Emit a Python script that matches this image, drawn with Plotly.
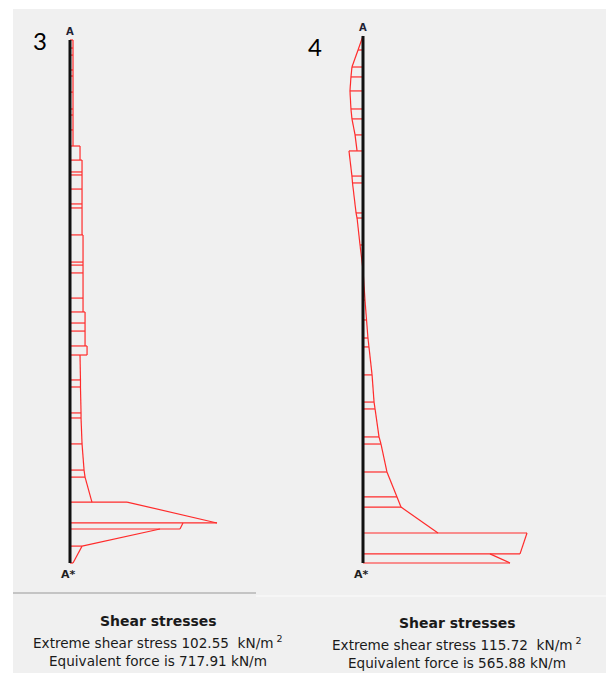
import plotly.graph_objects as go

W, H = 606, 673

# ---------------- data: panel 3 (depth in m, shear stress in kN/m2) ----------------
depth3 = [0.00, 0.40, 0.75, 1.49, 1.79, 2.59, 3.43, 3.73, 4.47, 5.27, 5.97, 6.56, 6.71,
          7.41, 8.15, 8.35, 9.69, 11.04, 11.19, 11.58, 12.83, 13.52, 14.07, 14.47, 15.21,
          15.66, 16.90, 17.25, 18.54, 18.79, 20.08, 21.38, 21.73, 22.97, 24.01, 24.31,
          25.16, 26.00]
tau3_top = [2.1, 2.1, 2.1, 2.1, 2.1, 2.1, 2.1, 2.1, 2.1, 7.0, 8.4, 8.4, 8.4, 8.4, 8.4, 8.4,
            9.1, 9.1, 9.1, 9.1, 9.1, 10.5, 10.5, 10.5, 11.9, 7.0, 7.3, 7.3, 7.7, 7.7, 8.4,
            9.8, 10.5, 39.8, 78.8, 62.8, 8.4]
tau3_bot = [2.1, 2.1, 2.1, 2.1, 2.1, 2.1, 2.1, 2.1, 2.1, 7.0, 8.4, 8.4, 8.4, 8.4, 8.4, 8.4,
            9.1, 9.1, 9.1, 9.1, 9.1, 10.5, 10.5, 10.5, 11.9, 7.3, 7.3, 7.7, 7.7, 8.4, 9.8,
            10.5, 15.3, 102.55, 76.7, 8.4, 2.1]

# ---------------- data: panel 4 ----------------
depth4 = [0.00, 0.69, 1.53, 2.02, 2.71, 3.60, 4.09, 4.88, 5.67, 6.91, 7.25, 8.73, 8.98,
          10.31, 11.54, 13.03, 14.01, 14.90, 15.34, 16.72, 18.06, 18.40, 19.78, 20.13,
          21.51, 22.74, 23.24, 24.52, 25.55, 26.00]
tau4_top = [0.0, -3.5, -7.8, -8.5, -9.2, -8.5, -7.8, -5.6, -9.9, -7.8, -7.4, -4.9, -4.2,
            -2.1, 0.0, 1.4, 2.5, 3.5, 4.2, 6.4, 7.8, 8.5, 11.3, 12.7, 16.9, 24.0, 26.8,
            115.72, 89.6]
tau4_bot = [-3.5, -7.8, -8.5, -9.2, -8.5, -7.8, -5.6, -4.2, -7.8, -7.4, -4.9, -4.2, -2.1,
            0.0, 1.4, 2.5, 3.5, 4.2, 6.4, 7.8, 8.5, 11.3, 12.7, 16.9, 24.0, 26.8, 52.9,
            110.8, 103.7]

panel_labels = ["3", "4"]
titles = ["Shear stresses", "Shear stresses"]
extreme = ["102.55", "115.72"]
equiv = ["717.91", "565.88"]

RED = "#ff2b2b"


def profile(depth, top, bot):
    xs, ys = [], []
    for i in range(len(top)):
        xs += [top[i], bot[i], None]
        ys += [depth[i], depth[i + 1], None]
    return xs, ys


def ticks(depth, top, bot):
    xs, ys = [], []
    n = len(top)
    for k in range(n + 1):
        c = []
        if k > 0:
            c.append(bot[k - 1])
        if k < n:
            c.append(top[k])
        v = max(c, key=abs)
        xs += [0, v, None]
        ys += [depth[k], depth[k], None]
    return xs, ys


fig = go.Figure()

for idx, (d, t, b) in enumerate([(depth3, tau3_top, tau3_bot), (depth4, tau4_top, tau4_bot)]):
    xa = "x" if idx == 0 else "x2"
    ya = "y" if idx == 0 else "y2"
    tx, ty = ticks(d, t, b)
    fig.add_trace(go.Scatter(x=tx, y=ty, mode="lines", line=dict(color=RED, width=1.2),
                             xaxis=xa, yaxis=ya, hoverinfo="skip", showlegend=False))
    px_, py_ = profile(d, t, b)
    fig.add_trace(go.Scatter(x=px_, y=py_, mode="lines", line=dict(color=RED, width=1.2),
                             xaxis=xa, yaxis=ya, hoverinfo="skip", showlegend=False))
    fig.add_trace(go.Scatter(x=[0, 0], y=[d[0], d[-1]], mode="lines",
                             line=dict(color="#111111", width=3),
                             xaxis=xa, yaxis=ya, hoverinfo="skip", showlegend=False))

# ---------------- layout geometry (pixels) ----------------
def pxx(p):
    return p / W


def pxy(p):
    return 1 - p / H


# panel 3: axis at px 70, top 40, bottom 563, x-scale 147 px per 102.55
s3 = 147 / 102.55
L = 26.0
k3 = (563 - 40) / L
x3 = [(13 - 70) / s3, (299 - 70) / s3]
y3 = [(592 - 40) / k3, (9 - 40) / k3]
# panel 4: axis at px 363, top 36, bottom 563
s4 = 164 / 115.72
k4 = (563 - 36) / L
x4 = [(299 - 363) / s4, (606 - 363) / s4]
y4 = [(592 - 36) / k4, (9 - 36) / k4]

ax_common = dict(visible=False, showgrid=False, zeroline=False, fixedrange=True)
fig.update_layout(
    width=W, height=H, margin=dict(l=0, r=0, t=0, b=0),
    paper_bgcolor="white", plot_bgcolor="rgba(0,0,0,0)",
    xaxis=dict(domain=[pxx(13), pxx(299)], range=x3, **ax_common),
    yaxis=dict(domain=[pxy(592), pxy(9)], range=y3, **ax_common),
    xaxis2=dict(domain=[pxx(299), 1.0], range=x4, anchor="y2", **ax_common),
    yaxis2=dict(domain=[pxy(592), pxy(9)], range=y4, anchor="x2", **ax_common),
    showlegend=False,
)

shapes = [
    dict(type="rect", xref="paper", yref="paper", x0=pxx(13), x1=1.0, y0=0, y1=pxy(9),
         fillcolor="#f0f0f0", line=dict(width=0), layer="below"),
    dict(type="line", xref="paper", yref="paper", x0=pxx(13), x1=pxx(256), y0=pxy(593), y1=pxy(593),
         line=dict(color="#c4c4c4", width=2), layer="below"),
    dict(type="line", xref="paper", yref="paper", x0=pxx(256), x1=1.0, y0=pxy(596), y1=pxy(596),
         line=dict(color="#f6f6f6", width=2), layer="below"),
]
fig.update_layout(shapes=shapes)

ann = []
# A / A* labels
for xa, ya, d in [("x", "y", depth3), ("x2", "y2", depth4)]:
    ann.append(dict(x=0, y=d[0], xref=xa, yref=ya, text="<b>A</b>", showarrow=False,
                    yanchor="bottom", xanchor="center", yshift=1,
                    font=dict(family="DejaVu Sans", size=10, color="#1e2233")))
    ann.append(dict(x=0, y=d[-1], xref=xa, yref=ya, text="<b>A*</b>", showarrow=False,
                    yanchor="top", xanchor="center", xshift=-2, yshift=-3,
                    font=dict(family="DejaVu Sans", size=11, color="#1e1e1e")))

# panel numbers
ann.append(dict(x=pxx(40), y=pxy(40), xref="paper", yref="paper", text=panel_labels[0],
                showarrow=False, xanchor="center", yanchor="middle",
                font=dict(family="Lato", size=24, color="black")))
ann.append(dict(x=pxx(315), y=pxy(47), xref="paper", yref="paper", text=panel_labels[1],
                showarrow=False, xanchor="center", yanchor="middle",
                font=dict(family="Lato", size=24, color="black")))

# info texts
for cx, yoff, i in [(158, 0, 0), (457, 2, 1)]:
    ann.append(dict(x=pxx(cx), y=pxy(621 + yoff), xref="paper", yref="paper",
                    text="<b>" + titles[i] + "</b>", showarrow=False,
                    xanchor="center", yanchor="middle",
                    font=dict(family="DejaVu Sans", size=14, color="#1a1a1a")))
    ann.append(dict(x=pxx(cx), y=pxy(642 + yoff), xref="paper", yref="paper",
                    text="Extreme shear stress " + extreme[i] + "  kN/m<sup> 2</sup>",
                    showarrow=False, xanchor="center", yanchor="middle",
                    font=dict(family="DejaVu Sans", size=13.6, color="#1a1a1a")))
    ann.append(dict(x=pxx(cx), y=pxy(661 + yoff), xref="paper", yref="paper",
                    text="Equivalent force is " + equiv[i] + " kN/m",
                    showarrow=False, xanchor="center", yanchor="middle",
                    font=dict(family="DejaVu Sans", size=13.6, color="#1a1a1a")))

fig.update_layout(annotations=ann)

fig.write_html("out.html")
